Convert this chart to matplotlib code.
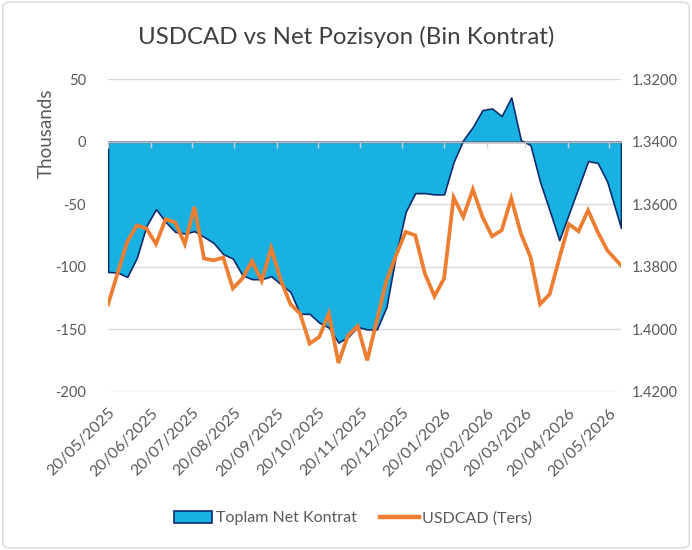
import matplotlib
matplotlib.use("Agg")
import matplotlib.pyplot as plt
from matplotlib.patches import Patch, FancyBboxPatch
from matplotlib.lines import Line2D
import pandas as pd

plt.rcParams['font.family'] = ['Lato', 'DejaVu Sans']
plt.rcParams['axes.unicode_minus'] = False

# ---- data ----
dates = list(pd.date_range('2025-05-20', periods=53, freq='7D')) + [pd.Timestamp('2026-05-29')]

net_position = [
    -104, -104.5, -108, -92.8, -67.2, -53.8, -64, -72, -73.3, -71.4,
    -76, -80.8, -89.8, -93.3, -106.6, -109.8, -109.8, -107.4, -113.8, -120,
    -137.5, -137.5, -144.5, -148.5, -160.5, -156, -148, -150, -150, -132,
    -90, -56, -41, -41, -42, -42, -16, 1.4, 12, 25.4,
    26.7, 20.6, 35.5, 1.4, -2.6, -32, -55, -78.6, -57.5, -36.5,
    -15.4, -16.8, -32, -68.8,
]

usdcad = [
    1.3920, 1.3820, 1.3720, 1.3667, 1.3677, 1.3727, 1.3647, 1.3658, 1.3727, 1.3608,
    1.3773, 1.3779, 1.3770, 1.3869, 1.3837, 1.3781, 1.3845, 1.3740, 1.3843, 1.3919,
    1.3949, 1.4045, 1.4024, 1.3949, 1.4107, 1.4019, 1.3989, 1.4099, 1.3971, 1.3845,
    1.3763, 1.3688, 1.3699, 1.3821, 1.3894, 1.3837, 1.3578, 1.3640, 1.3552, 1.3640,
    1.3702, 1.3683, 1.3581, 1.3693, 1.3768, 1.3919, 1.3887, 1.3773, 1.3663, 1.3686,
    1.3619, 1.3688, 1.3747, 1.3795,
]

tick_labels = ['20/05/2025', '20/06/2025', '20/07/2025', '20/08/2025', '20/09/2025',
               '20/10/2025', '20/11/2025', '20/12/2025', '20/01/2026', '20/02/2026',
               '20/03/2026', '20/04/2026', '20/05/2026']
left_ticks = [-200, -150, -100, -50, 0, 50]
right_ticks = [1.32, 1.34, 1.36, 1.38, 1.40, 1.42]

title = 'USDCAD vs Net Pozisyon (Bin Kontrat)'
area_label = 'Toplam Net Kontrat'
line_label = 'USDCAD (Ters)'

# ---- style ----
fill_color = '#19B1E1'
edge_color = '#0B2A6B'
line_color = '#ED7D31'
grid_color = '#D9D9D9'
text_color = '#595959'

fig = plt.figure(figsize=(6.92, 5.5), dpi=100)
ax = fig.add_axes([0.1561, 0.2873, 0.7413, 0.5685])
ax2 = ax.twinx()

tick_dates = [pd.to_datetime(t, format='%d/%m/%Y') for t in tick_labels]

ax.fill_between(dates, 0, net_position, facecolor=fill_color, edgecolor=edge_color,
                linewidth=1.2, zorder=1)
ax.set_ylim(left_ticks[0], left_ticks[-1])
ax.set_yticks(left_ticks)
ax.set_yticklabels([str(v) for v in left_ticks])
ax.set_xlim(dates[0], dates[-1])
ax.grid(axis='y', color=grid_color, linewidth=1.0)
ax.set_axisbelow(True)
for s in ax.spines.values():
    s.set_visible(False)
ax.tick_params(axis='y', length=0, labelsize=10.5, labelcolor=text_color, pad=16)
ax.set_xticks(tick_dates)
ax.set_xticklabels(tick_labels, rotation=45, ha='right', va='top',
                   rotation_mode='anchor', fontsize=11.5, color=text_color)
ax.tick_params(axis='x', length=0, pad=10)
ax.set_ylabel('Thousands', fontsize=13.5, color=text_color)
ax.yaxis.set_label_coords(-0.104, 0.826)

ax2.plot(dates, usdcad, color=line_color, linewidth=2.7, solid_joinstyle='miter', zorder=3)
ax2.set_ylim(right_ticks[-1], right_ticks[0])
ax2.set_yticks(right_ticks)
ax2.set_yticklabels([f'{v:.4f}' for v in right_ticks])
ax2.tick_params(axis='y', length=0, labelsize=10.5, labelcolor=text_color, pad=8)
for s in ax2.spines.values():
    s.set_visible(False)
# zero axis line with month tick marks, drawn above the area
zero_frac = (0 - left_ticks[0]) / (left_ticks[-1] - left_ticks[0])
ax2.xaxis.set_visible(True)
ax2.spines['bottom'].set_visible(True)
ax2.spines['bottom'].set_position(('axes', zero_frac))
ax2.spines['bottom'].set_color('#BFBFBF')
ax2.spines['bottom'].set_linewidth(1.0)
ax2.spines['bottom'].set_zorder(2)
ax2.set_xticks(tick_dates)
ax2.tick_params(axis='x', which='both', direction='out', length=4, width=1.0,
                color='#D0D0D0', labelbottom=False, labeltop=False, top=False, bottom=True)
ax2.set_xlim(dates[0], dates[-1])

fig.text(0.5, 0.932, title, ha='center', va='center', fontsize=17.3, color='#404040')

handles = [Patch(facecolor=fill_color, edgecolor=edge_color, linewidth=1.2),
           Line2D([0], [0], color=line_color, linewidth=3.2)]
fig.legend(handles, [area_label, line_label], loc='center', bbox_to_anchor=(0.51, 0.058),
           ncol=2, frameon=False, fontsize=11.5, handlelength=2.4, handleheight=0.8,
           columnspacing=1.5, handletextpad=0.2, labelcolor=text_color)

border = FancyBboxPatch((0.004, 0.004), 0.992, 0.992, boxstyle='round,pad=0,rounding_size=0.01',
                        transform=fig.transFigure, facecolor='none', edgecolor='#D9D9D9',
                        linewidth=1.0)
fig.patches.append(border)

fig.savefig('out.png', dpi=100)
